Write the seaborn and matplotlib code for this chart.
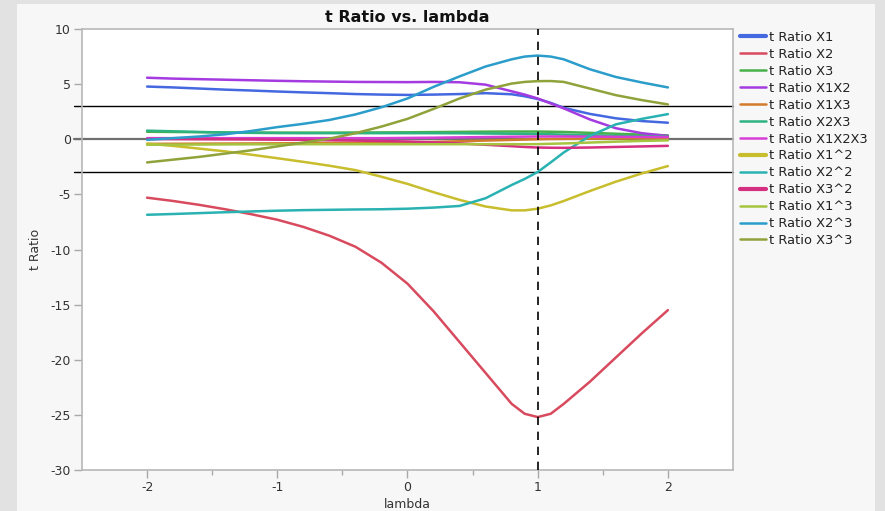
import matplotlib
matplotlib.use("Agg")
import matplotlib.pyplot as plt
from matplotlib.patches import Rectangle
from matplotlib.lines import Line2D
import seaborn as sns
import numpy as np
import pandas as pd

# Box-Cox lambda grid (denser around lambda = 1)
lam = [-2.0, -1.8, -1.6, -1.4, -1.2, -1.0, -0.8, -0.6, -0.4, -0.2, 0.0,
       0.2, 0.4, 0.6, 0.8, 0.9, 1.0, 1.1, 1.2, 1.4, 1.6, 1.8, 2.0]

# t ratios of each model term across lambda
t_x1 = [4.78, 4.70, 4.60, 4.50, 4.42, 4.33, 4.25, 4.18, 4.10, 4.05, 4.02,
        4.05, 4.10, 4.18, 4.08, 3.90, 3.65, 3.30, 2.85, 2.30, 1.90, 1.65, 1.50]
t_x2 = [-5.30, -5.60, -5.95, -6.35, -6.80, -7.30, -7.95, -8.75, -9.75, -11.2, -13.1,
        -15.6, -18.4, -21.2, -24.0, -24.9, -25.2, -24.9, -24.0, -22.0, -19.8, -17.6, -15.5]
t_x3 = [0.68, 0.66, 0.64, 0.62, 0.61, 0.60, 0.60, 0.60, 0.61, 0.62, 0.63,
        0.65, 0.67, 0.69, 0.70, 0.70, 0.70, 0.68, 0.66, 0.58, 0.50, 0.42, 0.35]
t_x1x2 = [5.58, 5.50, 5.45, 5.40, 5.35, 5.30, 5.26, 5.23, 5.20, 5.19, 5.18,
          5.20, 5.17, 4.95, 4.35, 4.05, 3.70, 3.25, 2.80, 1.80, 1.00, 0.55, 0.30]
t_x1x3 = [-0.42, -0.41, -0.40, -0.39, -0.38, -0.37, -0.36, -0.34, -0.32, -0.30, -0.28,
          -0.24, -0.18, -0.12, -0.06, -0.03, 0.00, 0.02, 0.03, 0.05, 0.07, 0.09, 0.10]
t_x2x3 = [0.78, 0.72, 0.66, 0.61, 0.58, 0.56, 0.55, 0.55, 0.55, 0.55, 0.55,
          0.55, 0.54, 0.52, 0.50, 0.49, 0.47, 0.45, 0.42, 0.36, 0.31, 0.27, 0.24]
t_x1x2x3 = [0.10, 0.10, 0.10, 0.10, 0.10, 0.10, 0.10, 0.10, 0.10, 0.10, 0.12,
            0.14, 0.17, 0.20, 0.23, 0.24, 0.25, 0.25, 0.25, 0.24, 0.22, 0.21, 0.20]
t_x1sq = [-0.40, -0.60, -0.85, -1.10, -1.40, -1.72, -2.05, -2.40, -2.80, -3.40, -4.05,
          -4.80, -5.50, -6.10, -6.45, -6.45, -6.30, -6.00, -5.60, -4.70, -3.85, -3.10, -2.43]
t_x2sq = [-6.85, -6.78, -6.70, -6.62, -6.55, -6.48, -6.43, -6.40, -6.37, -6.35, -6.30,
          -6.20, -6.05, -5.35, -4.15, -3.60, -2.97, -2.10, -1.20, 0.30, 1.35, 1.85, 2.28]
t_x3sq = [0.02, 0.01, 0.00, -0.01, -0.02, -0.04, -0.06, -0.09, -0.12, -0.16, -0.20,
          -0.28, -0.38, -0.50, -0.63, -0.70, -0.75, -0.77, -0.78, -0.75, -0.70, -0.65, -0.60]
t_x1cu = [-0.50, -0.49, -0.48, -0.47, -0.46, -0.46, -0.45, -0.45, -0.45, -0.45, -0.45,
          -0.45, -0.45, -0.45, -0.45, -0.45, -0.44, -0.41, -0.38, -0.30, -0.22, -0.15, -0.10]
t_x2cu = [-0.05, 0.10, 0.25, 0.45, 0.75, 1.10, 1.40, 1.75, 2.25, 2.90, 3.70,
          4.75, 5.70, 6.60, 7.25, 7.50, 7.59, 7.50, 7.25, 6.35, 5.65, 5.15, 4.70]
t_x3cu = [-2.10, -1.85, -1.60, -1.30, -1.00, -0.65, -0.30, 0.05, 0.55, 1.15, 1.85,
          2.75, 3.70, 4.50, 5.05, 5.20, 5.27, 5.28, 5.20, 4.60, 4.00, 3.55, 3.16]

terms = ["X1", "X2", "X3", "X1X2", "X1X3", "X2X3", "X1X2X3",
         "X1^2", "X2^2", "X3^2", "X1^3", "X2^3", "X3^3"]
series = [t_x1, t_x2, t_x3, t_x1x2, t_x1x3, t_x2x3, t_x1x2x3,
          t_x1sq, t_x2sq, t_x3sq, t_x1cu, t_x2cu, t_x3cu]
colors = ["#4468e0", "#d84a5e", "#48b04a", "#a43be0", "#d27b2c", "#2db382",
          "#d63ed6", "#c8bd2c", "#2ab2b2", "#d42f80", "#a6c440", "#2b9dca", "#8fa33a"]
legend_widths = [3.0, 1.8, 1.8, 1.8, 1.8, 1.8, 1.8, 3.0, 1.8, 3.0, 1.8, 1.8, 1.8]

df = pd.DataFrame({
    "lambda": np.tile(lam, len(terms)),
    "t Ratio": np.concatenate(series),
    "term": np.repeat(["t Ratio " + t for t in terms], len(lam)),
})

sns.set_style("white")
plt.rcParams["font.family"] = ["DejaVu Sans"]
plt.rcParams["axes.unicode_minus"] = False

fig = plt.figure(figsize=(8.85, 5.11), dpi=100)
fig.patch.set_facecolor("#e2e2e2")
panel = Rectangle((17 / 885, 0), (875 - 17) / 885, 1 - 4 / 511,
                  transform=fig.transFigure, facecolor="#f7f7f7",
                  edgecolor="none", zorder=-10)
fig.add_artist(panel)

ax = fig.add_axes([82 / 885, 1 - 470 / 511, (733 - 82) / 885, (470 - 29) / 511])
ax.set_facecolor("white")

# reference lines at t = +/-3 and 0, and the dashed marker at lambda = 1
ytrans = ax.get_yaxis_transform()
for yv, c, lw in [(3, "black", 1.0), (0, "#707070", 1.6), (-3, "black", 1.0)]:
    ax.plot([-0.012, 1.0], [yv, yv], transform=ytrans, color=c, lw=lw,
            clip_on=False, zorder=1)
ax.axvline(1.0, color="black", lw=1.2, ls=(0, (5, 4)), zorder=5)

labels = ["t Ratio " + t for t in terms]
for lab, col in zip(labels, colors):
    sub = df[df["term"] == lab]
    sns.lineplot(data=sub, x="lambda", y="t Ratio", color=col, lw=1.8, ax=ax,
                 legend=False, zorder=3)

ax.set_xlim(-2.5, 2.5)
ax.set_ylim(-30, 10)
ax.set_xticks([-2, -1, 0, 1, 2])
ax.set_xticks([-1.5, -0.5, 0.5, 1.5], minor=True)
ax.set_yticks([10, 5, 0, -5, -10, -15, -20, -25, -30])
ax.tick_params(axis="both", which="major", length=6, width=1, color="#a8a8a8",
               labelsize=9, labelcolor="#333333", direction="out", pad=2)
ax.tick_params(axis="x", which="minor", length=3.5, width=1, color="#a8a8a8",
               direction="out")
ax.tick_params(axis="x", which="both", bottom=True)
ax.tick_params(axis="y", which="major", left=True)
for s in ax.spines.values():
    s.set_color("#b8b8b8")
    s.set_linewidth(1.2)

ax.set_xlabel("lambda", fontsize=9, color="#333333", labelpad=3)
ax.set_ylabel("t Ratio", fontsize=9, color="#333333", labelpad=6)
ax.set_title("t Ratio vs. lambda", fontsize=11.5, fontweight="bold",
             color="#111111", pad=5)

handles = [Line2D([0], [0], color=c, lw=w) for c, w in zip(colors, legend_widths)]
fig.legend(handles, labels, loc="upper left",
           bbox_to_anchor=(740 / 885, 1 - 31 / 511), frameon=False,
           fontsize=9.4, handlelength=2.0, handletextpad=0.2,
           labelspacing=0.3, borderpad=0, borderaxespad=0,
           labelcolor="#222222")

fig.savefig("out.png", dpi=100, facecolor=fig.get_facecolor())
